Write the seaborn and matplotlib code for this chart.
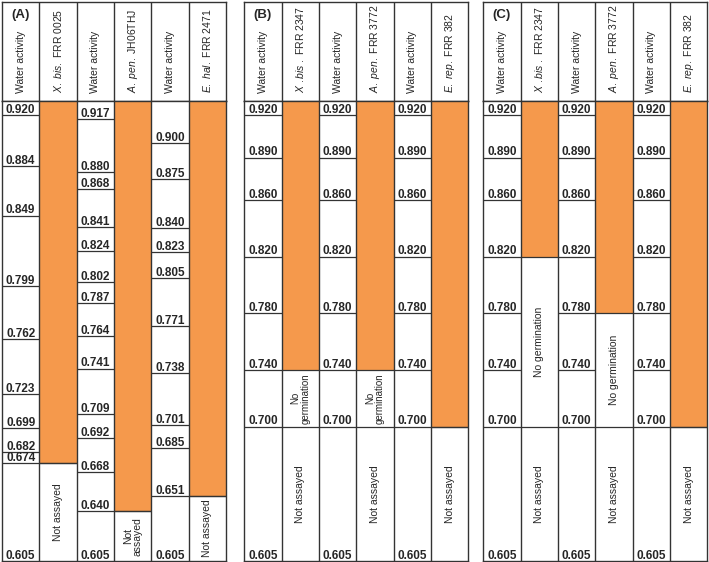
import matplotlib
matplotlib.use("Agg")
import matplotlib.pyplot as plt
import seaborn as sns

sns.set_theme(style="white")
plt.rcParams['font.family'] = ['Liberation Sans', 'DejaVu Sans']
plt.rcParams['mathtext.fontset'] = 'custom'
plt.rcParams['mathtext.rm'] = 'Liberation Sans'
plt.rcParams['mathtext.it'] = 'Liberation Sans:italic'

# %%
# water activity levels per strain (one list per strain column)
panel_labels = ["(A)", "(B)", "(C)"]

species_A = [("X. bis.", "FRR 0025"), ("A. pen.", "JH06THJ"), ("E. hal.", "FRR 2471")]
species_BC = [("X .bis .", "FRR 2347"), ("A. pen.", "FRR 3772"), ("E. rep.", "FRR 382")]

aw_A = [
    [0.920, 0.884, 0.849, 0.799, 0.762, 0.723, 0.699, 0.682, 0.674, 0.605],
    [0.917, 0.880, 0.868, 0.841, 0.824, 0.802, 0.787, 0.764, 0.741, 0.709, 0.692, 0.668, 0.640, 0.605],
    [0.900, 0.875, 0.840, 0.823, 0.805, 0.771, 0.738, 0.701, 0.685, 0.651, 0.605],
]
aw_BC = [0.920, 0.890, 0.860, 0.820, 0.780, 0.740, 0.700, 0.605]

# lowest aw with germination, lowest aw assayed (None = same as germination)
germ_min_A = [0.674, 0.640, 0.651]
assay_min_A = [None, None, None]
germ_min_B = [0.740, 0.740, 0.700]
assay_min_B = [0.700, 0.700, None]
germ_min_C = [0.820, 0.780, 0.700]
assay_min_C = [0.700, 0.700, None]

AW_TOP = 0.930
AW_BOTTOM = 0.605
ORANGE = "#F5994C"
LINE = "#333333"

W, H = 709, 562


def px_box(x0, y0, x1, y1):
    return [x0 / W, 1 - y1 / H, (x1 - x0) / W, (y1 - y0) / H]


def italic_label(sp):
    return r"$\it{" + sp[0].replace(" ", r"\ ") + "}$ " + sp[1]


def draw_panel(fig, left, label, species, aw_cols, germ_min, assay_min, nogerm_small):
    right = left + 224
    hax = fig.add_axes(px_box(left, 2, right, 101))
    bax = fig.add_axes(px_box(left, 101, right, 561))

    for ax in (hax, bax):
        ax.set_xlim(0, 6)
        ax.set_xticks([])
        ax.set_yticks([])
        for s in ax.spines.values():
            s.set_color(LINE)
            s.set_linewidth(1)
        for c in range(1, 6):
            ax.axvline(c, color=LINE, lw=1)
    hax.set_ylim(0, 1)
    bax.set_ylim(AW_BOTTOM, AW_TOP)

    # header
    hax.text(0.5, 0.87, label, ha="center", va="center", fontsize=9.5, fontweight="bold")
    for i in range(3):
        hax.text(2 * i + 0.5, 0.08, "Water activity", rotation=90, ha="center", va="bottom", fontsize=7.5)
        hax.text(2 * i + 1.5, 0.08, italic_label(species[i]), rotation=90, ha="center", va="bottom", fontsize=7.5)

    # body
    for i in range(3):
        wc = 2 * i
        vals = aw_cols[i]
        bax.hlines(vals[:-1], wc, wc + 1, color=LINE, lw=0.9)
        for v in vals:
            bax.annotate(f"{v:.3f}", (wc + 0.5, v), xytext=(0, 1.6), textcoords="offset points",
                         ha="center", va="baseline", fontsize=8.5, fontweight="bold")

        sc = wc + 1
        g = germ_min[i]
        a = assay_min[i] if assay_min[i] is not None else g
        bax.bar(sc + 0.5, AW_TOP - g, bottom=g, width=1, color=ORANGE, edgecolor="none", zorder=0)
        bax.hlines([g, a], sc, sc + 1, color=LINE, lw=0.9)
        if a < g:
            if nogerm_small:
                bax.text(sc + 0.5, (g + a) / 2, "No\ngermination", rotation=90, ha="center",
                         va="center", fontsize=7, linespacing=1.0)
            else:
                bax.text(sc + 0.5, (g + a) / 2, "No germination", rotation=90, ha="center",
                         va="center", fontsize=7.5)
        na_text = "Not assayed" if a - AW_BOTTOM > 0.04 else "Not\nassayed"
        bax.text(sc + 0.5, (a + AW_BOTTOM) / 2, na_text, rotation=90, ha="center",
                 va="center", fontsize=7.5, linespacing=1.0)


fig = plt.figure(figsize=(W / 100, H / 100), dpi=100)
draw_panel(fig, 2, panel_labels[0], species_A, aw_A, germ_min_A, assay_min_A, False)
draw_panel(fig, 244.3, panel_labels[1], species_BC, [aw_BC] * 3, germ_min_B, assay_min_B, True)
draw_panel(fig, 483.3, panel_labels[2], species_BC, [aw_BC] * 3, germ_min_C, assay_min_C, False)

fig.savefig("out.png", dpi=100, facecolor="white")
